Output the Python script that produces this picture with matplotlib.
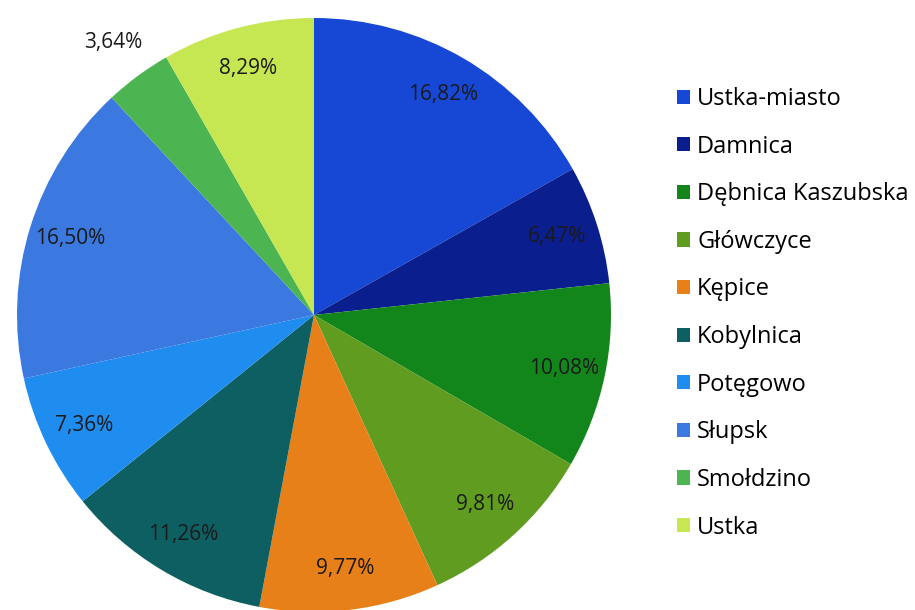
import matplotlib
matplotlib.use("Agg")

import numpy as np
import matplotlib.pyplot as plt
from matplotlib.patches import Patch

# Gminy and their shares (%), clockwise from 12 o'clock
NAMES = [
    "Ustka-miasto",
    "Damnica",
    "Dębnica Kaszubska",
    "Główczyce",
    "Kępice",
    "Kobylnica",
    "Potęgowo",
    "Słupsk",
    "Smołdzino",
    "Ustka",
]
SHARES = [16.82, 6.47, 10.08, 9.81, 9.77, 11.26, 7.36, 16.50, 3.64, 8.29]
COLORS = [
    "#1747d5", "#0b1e8e", "#13861b", "#5f9c1f", "#e8801a",
    "#0e5f62", "#1f8cf0", "#3b78e0", "#4cb552", "#c6e652",
]

W, H, DPI = 915, 610, 100
CX, CY, R = 314, 315, 297   # pie centre / radius in pixels

plt.rcParams["font.family"] = ["Open Sans", "DejaVu Sans"]


def main():
    fig = plt.figure(figsize=(W / DPI, H / DPI), dpi=DPI)
    ax = fig.add_axes([0, 0, 1, 1])

    wedges, _ = ax.pie(SHARES, colors=COLORS, startangle=90, counterclock=False,
                       radius=1.0, wedgeprops=dict(linewidth=0))

    # pie() forces equal aspect + own limits; place it by pixel geometry instead
    ax.set_aspect("auto")
    ax.set_xlim(-CX / R, (W - CX) / R)
    ax.set_ylim(-(H - CY) / R, CY / R)
    ax.axis("off")

    # percentage labels, small slices go outside
    for w, v in zip(wedges, SHARES):
        mid = np.deg2rad((w.theta1 + w.theta2) / 2)
        d = 1.14 if v < 5 else 0.86
        txt = f"{v:.2f}%".replace(".", ",")
        ax.text(d * np.cos(mid), d * np.sin(mid), txt, ha="center", va="center",
                fontsize=15, color="#1a1a1a")

    handles = [Patch(facecolor=c, edgecolor="none") for c in COLORS]
    fig.legend(handles, NAMES, loc="upper left", bbox_to_anchor=(677 / W, 1 - 87 / H),
               frameon=False, fontsize=17, handlelength=0.55, handleheight=0.55,
               handletextpad=0.3, labelspacing=1.0, borderaxespad=0, borderpad=0)

    fig.savefig("out.png", dpi=DPI)
    plt.close(fig)


if __name__ == "__main__":
    main()
